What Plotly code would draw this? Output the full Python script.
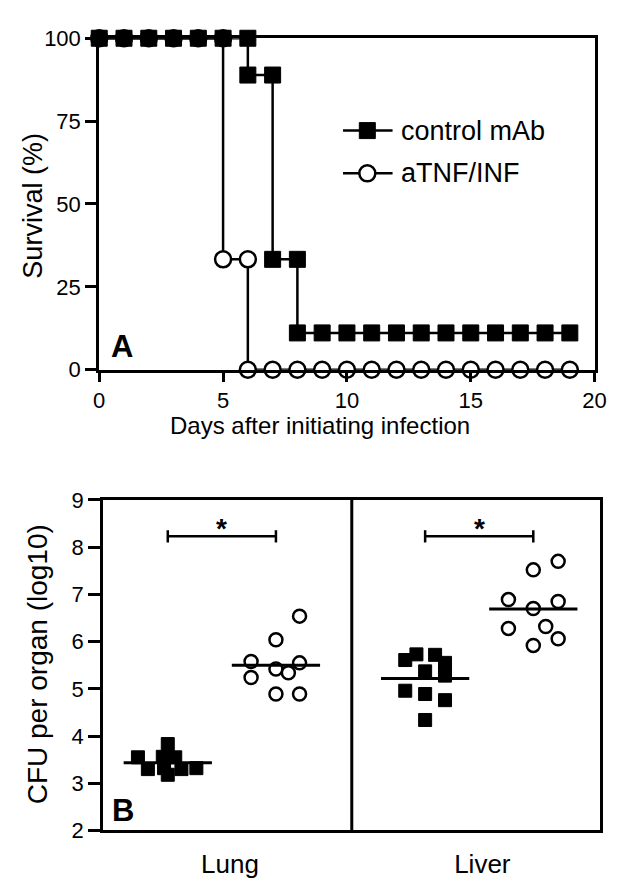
import numpy as np
import plotly.graph_objects as go

# Panel A: survival curves (Kaplan-Meier style, points on both sides of each step)
ctrl_days = [0, 1, 2, 3, 4, 5, 6, 6, 7, 7, 8, 8, 9, 10, 11, 12, 13, 14, 15, 16, 17, 18, 19]
ctrl_surv = [100, 100, 100, 100, 100, 100, 100, 88.9, 88.9, 33.3, 33.3, 11.1,
             11.1, 11.1, 11.1, 11.1, 11.1, 11.1, 11.1, 11.1, 11.1, 11.1, 11.1]
atnf_days = [0, 1, 2, 3, 4, 5, 5, 6, 6, 7, 8, 9, 10, 11, 12, 13, 14, 15, 16, 17, 18, 19]
atnf_surv = [100, 100, 100, 100, 100, 100, 33.3, 33.3, 0,
             0, 0, 0, 0, 0, 0, 0, 0, 0, 0, 0, 0, 0]
series_names = ["control mAb", "aTNF/INF"]

a_xticks = [0, 5, 10, 15, 20]
a_yticks = [0, 25, 50, 75, 100]

# Panel B: CFU per organ (log10), individual animals
organs = ["Lung", "Liver"]
organ_tick_pos = [1.02, 3.05]
group_pos = {"Lung": (0.52, 1.39), "Liver": (2.59, 3.46)}

lung_ctrl = [3.83, 3.55, 3.56, 3.55, 3.30, 3.32, 3.30, 3.32, 3.18]
lung_ctrl_dx = [0.0, -0.24, -0.04, 0.06, -0.16, -0.03, 0.11, 0.23, 0.0]
lung_atnf = [6.54, 6.04, 5.58, 5.42, 5.34, 5.55, 5.24, 4.89, 4.89]
lung_atnf_dx = [0.19, 0.0, -0.2, 0.0, 0.1, 0.19, -0.2, 0.0, 0.19]

liver_ctrl = [5.61, 5.73, 5.72, 5.55, 5.28, 5.37, 4.96, 4.89, 4.76, 4.34]
liver_ctrl_dx = [-0.16, -0.07, 0.08, 0.16, 0.16, 0.0, -0.16, 0.0, 0.16, 0.0]
liver_atnf = [7.70, 7.52, 6.89, 6.70, 6.85, 6.28, 6.32, 6.06, 5.92]
liver_atnf_dx = [0.2, 0.0, -0.2, 0.0, 0.2, -0.2, 0.1, 0.2, 0.0]

b_yticks = [2, 3, 4, 5, 6, 7, 8, 9]
sig_y = 8.23

FONT = "Arial, Liberation Sans, sans-serif"
W, H = 627, 895
fig = go.Figure()

sq_a = dict(symbol="square", size=16, color="black", line=dict(color="black", width=1))
ci_a = dict(symbol="circle", size=16, color="white", line=dict(color="black", width=2.5))

# --- panel A ---
fig.add_trace(go.Scatter(
    x=atnf_days, y=atnf_surv, mode="lines+markers", name=series_names[1],
    line=dict(color="black", width=2.5), marker=ci_a,
    cliponaxis=False, showlegend=False, xaxis="x", yaxis="y"))
fig.add_trace(go.Scatter(
    x=ctrl_days, y=ctrl_surv, mode="lines+markers", name=series_names[0],
    line=dict(color="black", width=2.5), marker=sq_a,
    cliponaxis=False, showlegend=False, xaxis="x", yaxis="y"))

# legend drawn on a pixel-space overlay axis (x3/y3)
for i, (name, mk) in enumerate(zip(series_names, [sq_a, ci_a])):
    ly = 122 + 44 * i
    fig.add_trace(go.Scatter(
        x=[347, 372, 398], y=[ly, ly, ly], mode="lines", showlegend=False,
        line=dict(color="black", width=2.5), xaxis="x3", yaxis="y3", hoverinfo="skip"))
    fig.add_trace(go.Scatter(
        x=[372], y=[ly], mode="markers", showlegend=False, marker=mk,
        xaxis="x3", yaxis="y3", hoverinfo="skip"))
    fig.add_annotation(x=405, y=ly, xref="x3", yref="y3", text=name, showarrow=False,
                       xanchor="left", yanchor="middle",
                       font=dict(size=27, family=FONT, color="black"))

# --- panel B ---
half = 0.355
for organ, ctrl, cdx, atnf, adx in [("Lung", lung_ctrl, lung_ctrl_dx, lung_atnf, lung_atnf_dx),
                                     ("Liver", liver_ctrl, liver_ctrl_dx, liver_atnf, liver_atnf_dx)]:
    xc, xa = group_pos[organ]
    fig.add_trace(go.Scatter(
        x=[xc + d for d in cdx], y=ctrl, mode="markers", showlegend=False,
        marker=dict(symbol="square", size=13, color="black", line=dict(color="black", width=1)),
        xaxis="x2", yaxis="y2", cliponaxis=False))
    fig.add_trace(go.Scatter(
        x=[xa + d for d in adx], y=atnf, mode="markers", showlegend=False,
        marker=dict(symbol="circle", size=13, color="white", line=dict(color="black", width=2.5)),
        xaxis="x2", yaxis="y2", cliponaxis=False))
    # mean lines
    for x0, vals in [(xc, ctrl), (xa, atnf)]:
        m = float(np.mean(vals))
        fig.add_trace(go.Scatter(
            x=[x0 - half, x0 + half], y=[m, m], mode="lines", showlegend=False,
            line=dict(color="black", width=3), xaxis="x2", yaxis="y2"))
    # significance bracket
    fig.add_trace(go.Scatter(
        x=[xc, xc, None, xc, xa, None, xa, xa],
        y=[sig_y - 0.13, sig_y + 0.13, None, sig_y, sig_y, None, sig_y - 0.13, sig_y + 0.13],
        mode="lines", showlegend=False, line=dict(color="black", width=2.5),
        xaxis="x2", yaxis="y2"))
    fig.add_annotation(x=(xc + xa) / 2, y=sig_y + 0.17, xref="x2", yref="y2", text="<b>*</b>",
                       showarrow=False, font=dict(size=28, family=FONT, color="black"),
                       xanchor="center", yanchor="middle")

# divider between organs
fig.add_shape(type="line", x0=2, x1=2, y0=1.95, y1=9, xref="x2", yref="y2",
              line=dict(color="black", width=3))

tick_font = dict(size=22, family=FONT, color="black")
axis_common = dict(showgrid=False, zeroline=False, showline=True, linecolor="black",
                   linewidth=3, mirror=True, ticks="outside", tickwidth=3, tickcolor="black",
                   tickfont=tick_font)

fig.update_layout(
    width=W, height=H, margin=dict(l=0, r=0, t=0, b=0),
    paper_bgcolor="white", plot_bgcolor="rgba(0,0,0,0)",
    font=dict(family=FONT, color="black"),
    xaxis=dict(domain=[96 / W, 606 / W], range=[0, 20], tickvals=a_xticks, ticklen=9,
               anchor="y", **axis_common),
    yaxis=dict(domain=[1 - 368 / H, 1 - 27 / H], range=[0, 100], tickvals=a_yticks,
               ticklen=11, anchor="x", **axis_common),
    xaxis2=dict(domain=[100 / W, 612 / W], range=[0, 4], tickvals=organ_tick_pos,
                ticktext=organs, anchor="y2",
                **{**axis_common, "tickcolor": "rgba(0,0,0,0)", "ticklen": 8,
                   "tickfont": dict(size=26, family=FONT, color="black")}),
    yaxis2=dict(domain=[1 - 842 / H, 1 - 502 / H], range=[2, 9], tickvals=b_yticks,
                ticklen=12, anchor="x2", **axis_common),
    xaxis3=dict(domain=[0, 1], range=[0, W], visible=False, anchor="y3", fixedrange=True),
    yaxis3=dict(domain=[0, 1], range=[H, 0], visible=False, anchor="x3", fixedrange=True),
    showlegend=False,
)

# axis titles and panel letters (explicit anchors: "auto" would shift them)
def label(x, y, text, size, angle=0):
    fig.add_annotation(x=x / W, y=1 - y / H, xref="paper", yref="paper", text=text,
                       textangle=angle, showarrow=False, xanchor="center", yanchor="middle",
                       font=dict(size=size, family=FONT, color="black"))

label(323, 425, "Days after initiating infection", 24)
label(28, 199, "Survival (%)", 27, -90)
label(32, 671, "CFU per organ (log10)", 28, -90)
label(119, 344, "<b>A</b>", 31)
label(120, 821, "<b>B</b>", 31)

fig.write_html("out.html", config={"displayModeBar": False},
               post_script="document.body.style.margin='0';")
